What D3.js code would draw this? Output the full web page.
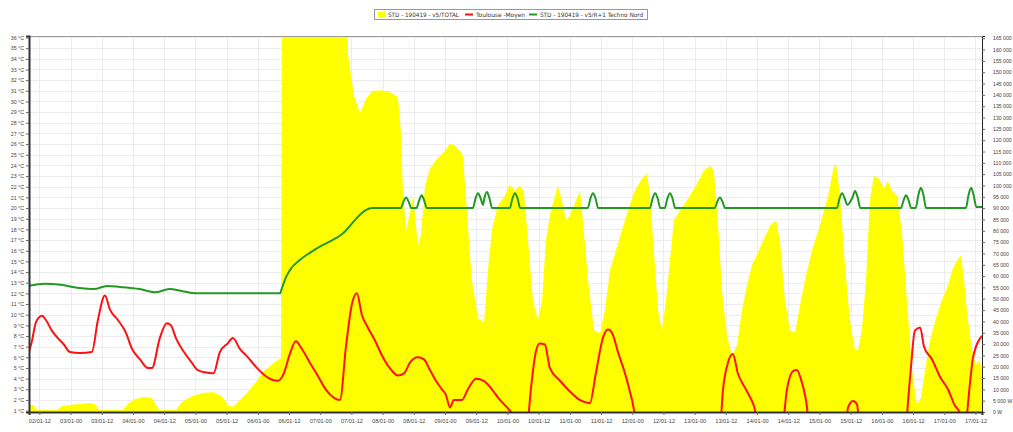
<!DOCTYPE html>
<html>
<head>
<meta charset="utf-8">
<script src="https://cdn.jsdelivr.net/npm/d3@7"></script>
<style>
  body { margin: 0; background: #fff; }
  svg { display: block; font-family: "DejaVu Sans", sans-serif; }
  .tick text { fill: #444; }
</style>
</head>
<body>
<div id="chart"></div>
<script>
// hours are counted from 02/01 00:00
const seriesNames = ["STD - 190419 - v5/TOTAL", "Toulouse -Moyen", "STD - 190419 - v5/R+1 Techno Nord"];

// yellow area, power in W (right axis)
const powerData = [
  [8,3100],[9.9,3100],[10.7,900],[18.7,900],[20.7,2600],[23.7,3100],[27.6,3500],[31.4,4000],[33.3,3500],[34.9,900],
  [44.1,900],[46,3500],[48.7,5700],[52.6,6600],[55.3,6200],[58,900],[64.5,900],[66.8,4400],[70.6,7000],[74.9,8400],
  [78.7,8800],[82.2,7000],[84.5,3100],[86.4,2200],[88.3,4400],[91.4,7900],[95.3,13200],[98.7,18500],[102.5,22000],
  [104.9,23800],[105.3,200000],[129.5,200000],[130.6,158400],[133,139500],[135.3,132000],[137.6,138200],[139.9,141700],
  [143.7,142100],[147.6,140800],[149.9,139000],[151,124000],[151.8,97700],[153,80100],[154.5,88000],[155.7,95500],
  [156.8,82300],[157.6,73500],[158.7,77900],[160.3,99900],[162.2,107400],[164.9,111800],[168,115300],[169.9,118400],
  [171.8,117500],[173.7,115300],[174.9,113100],[176.4,88900],[178.3,58100],[180.7,41400],[183,39600],[184.5,62500],
  [186,80100],[188.3,91100],[191,95500],[192.9,100300],[194.9,97700],[196.8,99900],[198.3,97700],[199.9,75700],
  [201.8,49300],[203.7,40500],[205.3,49300],[206.8,75700],[208.3,86700],[210.3,95500],[211.4,99900],[213,93300],
  [214.5,84500],[216,86700],[218.3,93300],[219.9,97700],[221,84500],[223,58100],[225.3,36100],[227.6,34800],
  [229.5,44900],[231.4,62500],[233.7,71300],[236,80100],[238.3,88900],[241,97700],[243.7,103000],[245.7,105200],
  [246.8,95500],[248.3,71300],[249.9,44900],[251.4,36100],[253,49300],[254.5,66900],[256,84500],[258.3,88900],
  [261.4,94200],[264.5,99900],[267.5,106500],[269.9,108700],[271.4,106500],[272.9,84500],[274.5,53700],[276.4,33900],
  [278.3,25100],[280.3,29500],[282.2,44900],[284.1,55900],[286,64700],[288.3,70400],[290.7,76600],[293,82300],
  [295.3,84500],[296.8,75700],[298.7,49300],[300.7,36100],[302.6,35200],[304.5,47100],[306.8,60300],[309.1,71300],
  [312.2,82300],[315.3,95500],[317.2,106500],[318.3,110000],[319.9,95500],[321.8,64700],[323.7,40500],[325.7,27300],
  [326.8,27300],[328.3,36100],[329.9,58100],[331.4,93300],[332.9,104300],[334.9,103000],[336.8,98600],[338.3,102100],
  [339.9,97700],[341.8,95500],[343.7,80100],[345.6,49300],[347.6,18500],[349.1,5300],[349.9,4000],[351,6200],
  [352.6,18500],[354.5,31700],[356.8,41400],[359.1,49300],[361.4,55900],[363.3,63400],[364.9,66900],[366.4,69100],
  [367.6,58100],[369.1,40500],[370.7,27300],[372.2,20700],[373.3,22900],[374.5,19400]
];

// red line, outdoor temperature in °C (left axis)
const outdoorData = [
  [8,6.5],[9.1,7.5],[10.7,9.3],[13,9.9],[14.5,9.5],[16.8,8.5],[19.1,7.8],[21.4,7.2],[23.7,6.5],[27.6,6.4],
  [32.2,6.5],[34.5,9.5],[37.2,11.8],[39.1,10.5],[42.2,9.5],[45.3,8.3],[47.6,6.8],[50.7,5.8],[53.7,5.0],[55.3,5.0],
  [58.3,7.8],[61,9.2],[62.6,9.0],[64.5,7.8],[67.6,6.5],[70.6,5.5],[72.9,4.8],[75.6,4.6],[79,4.5],[81.4,6.5],
  [84.4,7.3],[86.4,7.8],[89.1,6.8],[92.2,6.0],[95.3,5.1],[98.7,4.3],[101.4,3.9],[103.7,3.8],[106,4.5],[108.3,6.3],
  [110.6,7.5],[112.9,6.8],[116,5.5],[119,4.3],[122.1,3.0],[125.3,2.2],[127.6,2.0],[129.9,7],[132.2,11],[134.1,12],
  [136,10],[138.3,8.8],[141,7.6],[143.7,6.2],[146.7,5.0],[149.8,4.3],[152.2,4.5],[154.5,5.5],[157.5,6.0],[159.9,5.8],
  [162.2,4.8],[164.5,3.8],[166.8,3.0],[168.3,2.5],[169.9,1.3],[171.4,2.0],[174.5,2.0],[176.8,3.0],[179.9,4.0],
  [182.9,3.8],[186,3.0],[189.1,2.0],[192.2,1.2],[194.4,0.5],[196,-0.5],[199.5,-0.5],[201,3],[202.9,6.5],[204.4,7.3],
  [206.4,7.2],[208.3,5.0],[212.2,3.8],[216,2.8],[219.8,2.0],[223.7,1.7],[226,4.5],[228.7,7.8],[230.7,8.6],[232.2,8.3],
  [234.5,6.5],[237.2,4.5],[239.9,2.0],[242.3,-0.5],[273.7,-0.5],[274.9,3],[276.8,5.5],[278.7,6.3],[280.6,4.5],
  [283.7,3.0],[286.7,1.5],[289,-0.5],[297.6,-0.5],[299.5,3],[301.8,4.7],[303.3,4.8],[304.8,4.0],[306.8,2.0],
  [308.3,-0.5],[321.8,-0.5],[323,1.3],[324.9,1.9],[326.4,1.6],[327.6,-0.5],[344.9,-0.5],[346.8,4],[348.7,8.5],
  [350.7,8.8],[352.2,7.0],[355.3,5.8],[358.3,4.2],[361.4,3.0],[364,1.5],[365.9,0.8],[367,-0.5],[368.3,0],
  [369.8,3.4],[371,5.9],[374.5,8.0]
];

// green line, indoor temperature in °C (left axis)
const indoorData = [
  [8,12.7],[14,12.9],[20,12.8],[27.5,12.5],[33,12.4],[38,12.7],[43,12.6],[50.5,12.4],[56.5,12.1],[62,12.4],
  [67,12.2],[72,12.0],[104.5,12.0],[105.3,12.5],[106.8,13.5],[109,14.4],[112,15.1],[116,15.8],[120,16.4],[124,16.9],
  [127.5,17.4],[129.5,17.8],[132,18.5],[135,19.3],[137.5,19.8],[140,20.0],
  [151,20],[152,20.6],[153,21],[154,20.6],[155,20],
  [157,20],[158,20.7],[159,21.2],[160,20.7],[161,20],
  [178.7,20],[179.7,20.9],[180.7,21.4],[181.7,20.9],[182.6,20.3],[183.1,20.9],[184.1,21.5],[185.1,20.9],[186.1,20],
  [192.9,20],[193.9,20.9],[194.9,21.4],[195.9,20.9],[196.9,20],
  [222.9,20],[223.9,20.9],[224.9,21.4],[225.9,20.9],[226.9,20],
  [246.8,20],[247.8,20.9],[248.8,21.4],[249.8,20.9],[250.8,20],
  [252.5,20],[253.5,20.9],[254.5,21.4],[255.5,20.9],[256.5,20],
  [271.7,20],[272.7,20.6],[273.7,21],[274.7,20.6],[275.7,20],
  [318.7,20],[319.7,20.9],[320.7,21.4],[321.7,20.9],[322.7,20.3],[324.7,21.0],[325.7,21.6],[326.7,21.0],[327.7,20],
  [343.3,20],[344.3,20.7],[345.3,21.2],[346.3,20.7],[347.3,20],
  [349,20],[350,21.2],[351,21.9],[352,21.2],[353,20],
  [368.3,20],[369.3,21.2],[370.3,21.9],[371.3,21.2],[372.3,20.1],[374.5,20.1]
];

const tempTicks = d3.range(1, 37);
const powerTicks = d3.range(0, 165001, 5000);

const width = 1013, height = 432;
const plot = {left: 29, right: 982, top: 36, bottom: 412};
const t0 = new Date(2012, 0, 2, 0, 0);
const at = h => new Date(t0.getTime() + h * 3600e3);

const x = d3.scaleTime().domain([at(8), at(374.5)]).range([plot.left, plot.right]);
const yL = d3.scaleLinear().domain([0.87, 36.14]).range([plot.bottom, plot.top]);
const yR = d3.scaleLinear().domain([0, 166000]).range([plot.bottom, plot.top]);
const timeTicks = d3.range(0, 31).map(i => at(12 + i * 12));

const svg = d3.select("#chart").append("svg")
    .attr("width", width)
    .attr("height", height);

svg.append("defs").append("clipPath").attr("id", "clip")
  .append("rect")
    .attr("x", plot.left).attr("y", plot.top)
    .attr("width", plot.right - plot.left).attr("height", plot.bottom - plot.top);

// grid
const grid = svg.append("g").attr("stroke", "#ececec").attr("stroke-width", 1);
grid.selectAll(".hg").data(tempTicks).enter().append("line")
    .attr("x1", plot.left).attr("x2", plot.right)
    .attr("y1", d => Math.round(yL(d)) + 0.5).attr("y2", d => Math.round(yL(d)) + 0.5);
grid.selectAll(".vg").data(timeTicks).enter().append("line")
    .attr("y1", plot.top).attr("y2", plot.bottom)
    .attr("x1", d => Math.round(x(d)) + 0.5).attr("x2", d => Math.round(x(d)) + 0.5);

const g = svg.append("g").attr("clip-path", "url(#clip)");

// area of the power
g.append("path")
    .datum(powerData)
    .attr("fill", "#ffff00")
    .attr("d", d3.area()
      .x(d => x(at(d[0])))
      .y0(plot.bottom)
      .y1(d => yR(d[1])));

g.append("path")
    .datum(outdoorData)
    .attr("fill", "none")
    .attr("stroke", "#ff1111")
    .attr("stroke-width", 2)
    .attr("stroke-linejoin", "round")
    .attr("d", d3.line().x(d => x(at(d[0]))).y(d => yL(d[1])).curve(d3.curveMonotoneX));

g.append("path")
    .datum(indoorData)
    .attr("fill", "none")
    .attr("stroke", "#229922")
    .attr("stroke-width", 2)
    .attr("stroke-linejoin", "round")
    .attr("d", d3.line().x(d => x(at(d[0]))).y(d => yL(d[1])).curve(d3.curveMonotoneX));

// frame
svg.append("line").attr("x1", plot.left).attr("x2", plot.right)
    .attr("y1", plot.top + 0.5).attr("y2", plot.top + 0.5).attr("stroke", "#999");

// axes
const leftAxis = svg.append("g")
    .attr("transform", "translate(" + plot.left + ",0)")
    .call(d3.axisLeft(yL).tickValues(tempTicks).tickSize(3).tickPadding(2)
      .tickFormat(d => d + " °C"));
leftAxis.selectAll("text").attr("font-size", 5.3);
leftAxis.select(".domain").attr("stroke", "#333").attr("stroke-width", 2);
leftAxis.selectAll(".tick line").attr("stroke", "#666");

// the W unit only shows where the label still fits in the page
const rightAxis = svg.append("g")
    .attr("transform", "translate(" + plot.right + ",0)")
    .call(d3.axisRight(yR).tickValues(powerTicks).tickSize(3).tickPadding(8)
      .tickFormat(d => d3.format(",")(d).replace(/,/g, " ") + (d < 10000 ? " W" : "")));
rightAxis.selectAll("text").attr("font-size", 5.2);
rightAxis.select(".domain").attr("stroke", "#222");
rightAxis.selectAll(".tick line").attr("stroke", "#666");

const bottomAxis = svg.append("g")
    .attr("transform", "translate(0," + plot.bottom + ")")
    .call(d3.axisBottom(x).tickValues(timeTicks).tickSize(3).tickPadding(4)
      .tickFormat(d3.timeFormat("%d/%m-%H")));
bottomAxis.selectAll("text").attr("font-size", 5.6);
bottomAxis.select(".domain").attr("stroke", "#333").attr("stroke-width", 2);
bottomAxis.selectAll(".tick line").attr("stroke", "#666");

// legend
const legend = svg.append("g");
legend.append("rect")
    .attr("x", 374.5).attr("y", 9.5).attr("width", 273).attr("height", 10)
    .attr("fill", "#fff").attr("stroke", "#999");
legend.append("rect")
    .attr("x", 378).attr("y", 11.5).attr("width", 7).attr("height", 6).attr("fill", "#ffff00");
legend.append("line")
    .attr("x1", 465).attr("x2", 473).attr("y1", 14.5).attr("y2", 14.5)
    .attr("stroke", "#ff1111").attr("stroke-width", 2);
legend.append("line")
    .attr("x1", 529).attr("x2", 537).attr("y1", 14.5).attr("y2", 14.5)
    .attr("stroke", "#229922").attr("stroke-width", 2);
legend.selectAll(".lt").data(seriesNames).enter().append("text")
    .attr("x", (d, i) => [388, 476, 540][i])
    .attr("y", 16.5)
    .attr("font-size", 6)
    .attr("fill", "#333")
    .attr("textLength", (d, i) => [71, 49, 103][i])
    .attr("lengthAdjust", "spacingAndGlyphs")
    .text(d => d);
</script>
</body>
</html>
